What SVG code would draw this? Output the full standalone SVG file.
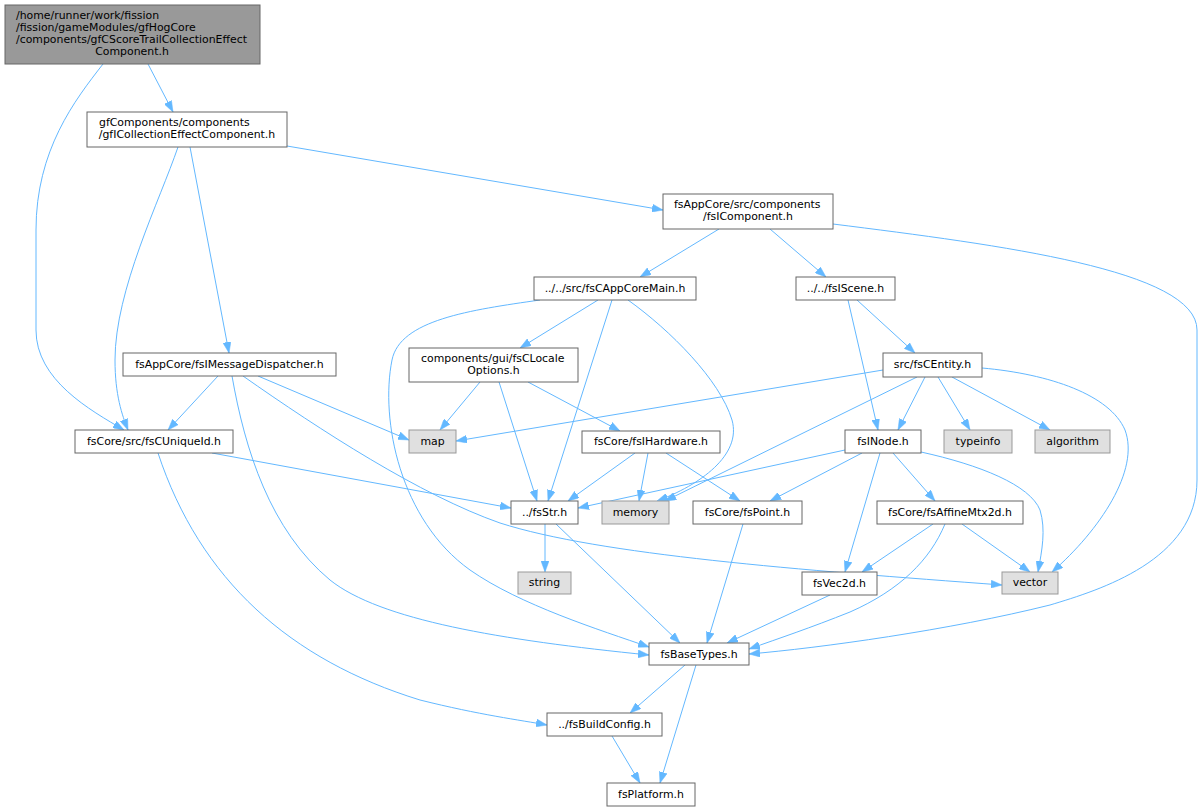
<svg xmlns="http://www.w3.org/2000/svg" width="1203" height="812" viewBox="0 0 1203 812">
<defs>
<style>
.n rect{fill:#ffffff;stroke:#666666;stroke-width:1}
.g rect{fill:#e0e0e0;stroke:#999999;stroke-width:1}
.r rect{fill:#999999;stroke:#666666;stroke-width:1}
text{font-family:"DejaVu Sans","Liberation Sans",sans-serif;font-size:10.9px;fill:#000000}
.c{text-anchor:middle}
.edge path{fill:none;stroke:#63b8ff;stroke-width:1;marker-end:url(#ah)}
</style>
<marker id="ah" markerWidth="11" markerHeight="8" refX="11" refY="4" orient="auto" markerUnits="userSpaceOnUse">
<path d="M0,0 L11,4 L0,8 z" fill="#63b8ff" stroke="#63b8ff" stroke-width="0.5"/>
</marker>
</defs>
<rect width="1203" height="812" fill="#ffffff"/>
<g id="edges" class="edge">
<path d="M148,64 L173,112"/>
<path d="M103,64 C75,100 36,150 36,230 L36,330 C36,380 90,410 124,430"/>
<path d="M178,147 C160,200 115,290 115,360 C115,395 122,415 128,430"/>
<path d="M190,147 L229,353"/>
<path d="M287,146 L663,210"/>
<path d="M719,229 L640,277"/>
<path d="M770,229 L826,277"/>
<path d="M833,224 C1000,245 1197,270 1197,330 L1197,480 C1197,560 1100,590 1050,605 C950,630 820,648 749,654"/>
<path d="M598,300 L520,348"/>
<path d="M612,300 L548,501"/>
<path d="M628,300 C670,330 720,380 732,420 C742,455 700,485 657,501"/>
<path d="M540,300 C470,310 400,320 392,360 C380,420 400,520 470,570 C520,605 600,630 649,647"/>
<path d="M232,376 C245,450 270,530 330,580 C380,620 500,640 649,655"/>
<path d="M218,376 L168,430"/>
<path d="M258,376 L409,440"/>
<path d="M243,376 C320,430 420,495 500,523 C600,555 800,570 1002,585"/>
<path d="M212,453 L511,508"/>
<path d="M158,453 C200,580 290,660 420,700 C480,715 520,720 547,725"/>
<path d="M480,382 L440,430"/>
<path d="M499,382 L537,501"/>
<path d="M528,382 L620,431"/>
<path d="M848,300 L878,430"/>
<path d="M857,300 L915,353"/>
<path d="M883,370 L456,441"/>
<path d="M917,377 L665,501"/>
<path d="M925,377 L898,430"/>
<path d="M938,377 L970,430"/>
<path d="M952,377 L1050,430"/>
<path d="M982,368 C1050,374 1110,395 1125,430 C1140,470 1100,530 1052,572"/>
<path d="M635,453 L568,501"/>
<path d="M648,453 L639,501"/>
<path d="M666,453 L740,501"/>
<path d="M845,450 L578,508"/>
<path d="M862,453 L770,501"/>
<path d="M893,453 L935,501"/>
<path d="M880,453 L845,572"/>
<path d="M921,452 C980,465 1030,485 1040,510 C1046,530 1042,550 1038,572"/>
<path d="M545,524 L545,572"/>
<path d="M556,524 L680,643"/>
<path d="M743,524 L707,643"/>
<path d="M933,524 L862,572"/>
<path d="M962,524 L1030,572"/>
<path d="M945,524 C930,560 900,590 850,612 C810,628 780,638 749,649"/>
<path d="M830,595 L727,643"/>
<path d="M685,665 L630,713"/>
<path d="M696,665 L660,783"/>
<path d="M612,736 L640,783"/>
</g>
<g id="node-root" class="r"><rect x="5" y="5" width="255" height="59"/>
<text x="16" y="19">/home/runner/work/fission</text>
<text x="16" y="31">/fission/gameModules/gfHogCore</text>
<text x="16" y="43">/components/gfCScoreTrailCollectionEffect</text>
<text x="132" y="55" class="c">Component.h</text></g>
<g id="node-gfICollectionEffectComponent" class="n"><rect x="87" y="112" width="200" height="35"/>
<text x="99" y="126">gfComponents/components</text>
<text x="187" y="138" class="c">/gfICollectionEffectComponent.h</text></g>
<g id="node-fsIComponent" class="n"><rect x="663" y="194" width="170" height="35"/>
<text x="674" y="208">fsAppCore/src/components</text>
<text x="748" y="220" class="c">/fsIComponent.h</text></g>
<g id="node-fsCAppCoreMain" class="n"><rect x="534" y="277" width="162" height="23"/>
<text x="615" y="292" class="c">../../src/fsCAppCoreMain.h</text></g>
<g id="node-fsIScene" class="n"><rect x="796" y="277" width="99" height="23"/>
<text x="845.5" y="292" class="c">../../fsIScene.h</text></g>
<g id="node-fsCEntity" class="n"><rect x="883" y="353" width="99" height="24"/>
<text x="932.5" y="368" class="c">src/fsCEntity.h</text></g>
<g id="node-fsCLocaleOptions" class="n"><rect x="409" y="348" width="169" height="34"/>
<text x="421" y="362">components/gui/fsCLocale</text>
<text x="493.5" y="374" class="c">Options.h</text></g>
<g id="node-fsIMessageDispatcher" class="n"><rect x="123" y="353" width="213" height="23"/>
<text x="229.5" y="368" class="c">fsAppCore/fsIMessageDispatcher.h</text></g>
<g id="node-fsCUniqueId" class="n"><rect x="75" y="430" width="158" height="23"/>
<text x="154" y="445" class="c">fsCore/src/fsCUniqueId.h</text></g>
<g id="node-map" class="g"><rect x="409" y="430" width="47" height="23"/>
<text x="432.5" y="445" class="c">map</text></g>
<g id="node-fsIHardware" class="n"><rect x="582" y="431" width="138" height="22"/>
<text x="651" y="445" class="c">fsCore/fsIHardware.h</text></g>
<g id="node-fsINode" class="n"><rect x="845" y="430" width="76" height="23"/>
<text x="883" y="445" class="c">fsINode.h</text></g>
<g id="node-typeinfo" class="g"><rect x="944" y="430" width="68" height="23"/>
<text x="978" y="445" class="c">typeinfo</text></g>
<g id="node-algorithm" class="g"><rect x="1035" y="430" width="75" height="23"/>
<text x="1072.5" y="445" class="c">algorithm</text></g>
<g id="node-fsStr" class="n"><rect x="511" y="501" width="67" height="23"/>
<text x="544.5" y="516" class="c">../fsStr.h</text></g>
<g id="node-memory" class="g"><rect x="602" y="501" width="67" height="23"/>
<text x="635.5" y="516" class="c">memory</text></g>
<g id="node-fsPoint" class="n"><rect x="693" y="501" width="109" height="23"/>
<text x="747.5" y="516" class="c">fsCore/fsPoint.h</text></g>
<g id="node-fsAffineMtx2d" class="n"><rect x="877" y="501" width="146" height="23"/>
<text x="950" y="516" class="c">fsCore/fsAffineMtx2d.h</text></g>
<g id="node-string" class="g"><rect x="518" y="572" width="53" height="22"/>
<text x="544.5" y="586" class="c">string</text></g>
<g id="node-fsVec2d" class="n"><rect x="802" y="572" width="75" height="23"/>
<text x="839.5" y="587" class="c">fsVec2d.h</text></g>
<g id="node-vector" class="g"><rect x="1002" y="572" width="56" height="22"/>
<text x="1030" y="586" class="c">vector</text></g>
<g id="node-fsBaseTypes" class="n"><rect x="649" y="643" width="100" height="22"/>
<text x="699" y="658" class="c">fsBaseTypes.h</text></g>
<g id="node-fsBuildConfig" class="n"><rect x="547" y="713" width="115" height="23"/>
<text x="604.5" y="728" class="c">../fsBuildConfig.h</text></g>
<g id="node-fsPlatform" class="n"><rect x="607" y="783" width="88" height="23"/>
<text x="651" y="798" class="c">fsPlatform.h</text></g>
</svg>
